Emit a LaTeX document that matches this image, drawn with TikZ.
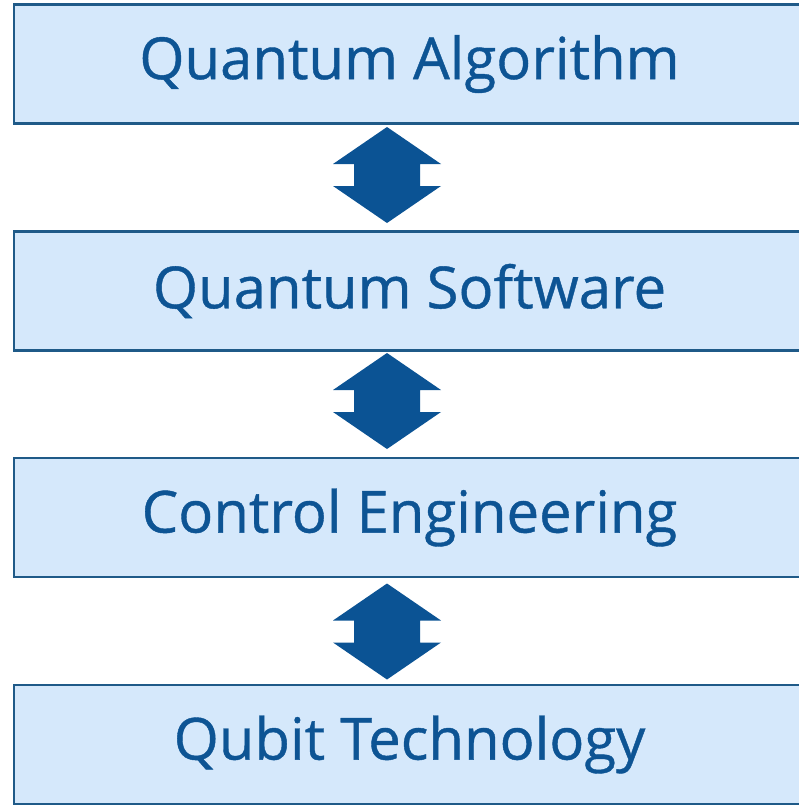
\documentclass[tikz,border=0pt]{standalone}
\usepackage{fontspec}
\setmainfont{Open Sans}
\newfontfamily\layerfont{Open Sans}[FakeBold=0.7]
\definecolor{boxfill}{HTML}{D5E8FB}
\definecolor{boxline}{HTML}{1F5A88}
\definecolor{txtblue}{HTML}{0D5494}
\definecolor{arrblue}{HTML}{0B5394}
\begin{document}
\begin{tikzpicture}[x=1pt,y=-1pt,
  layerbox/.style={draw=boxline, line width=2.8pt, fill=boxfill, text=txtblue,
    minimum width=791pt, minimum height=119pt, inner sep=0pt,
    font=\layerfont\fontsize{58}{64}\selectfont},
  dblarrow/.pic={
    \fill[arrblue] (0,-48) -- (54,-11) -- (33,-11) -- (33,11) -- (54,11) -- (0,48)
      -- (-54,11) -- (-33,11) -- (-33,-11) -- (-54,-11) -- cycle;
  }]
\useasboundingbox (0,0) rectangle (798,808);
\fill[white] (0,0) rectangle (798,808);
\node[layerbox] (b1) at (409.5,64) {Quantum Algorithm};
\node[layerbox] (b2) at (409.5,291) {Quantum Software};
\node[layerbox] (b3) at (409.5,517.5) {Control Engineering};
\node[layerbox] (b4) at (409.5,744.5) {Qubit Technology};
\coordinate (a1) at (387,175);
\coordinate (a2) at (387,401);
\coordinate (a3) at (387,631.5);
\pic at (a1) {dblarrow};
\pic at (a2) {dblarrow};
\pic at (a3) {dblarrow};
\end{tikzpicture}
\end{document}
